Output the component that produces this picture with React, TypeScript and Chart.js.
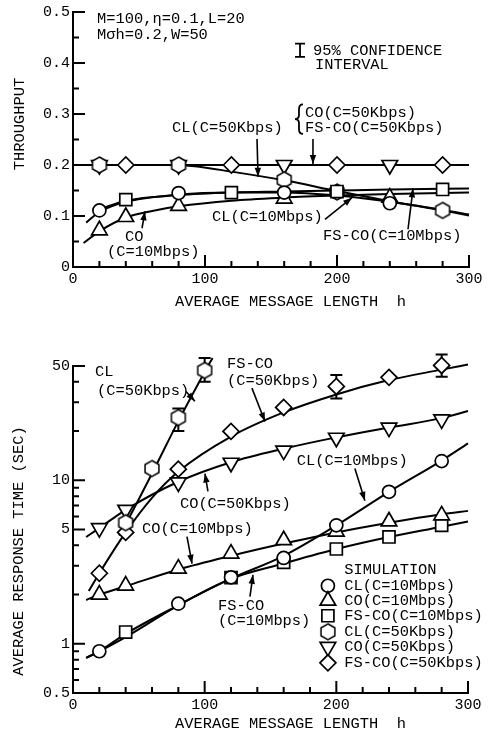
import { useEffect, useRef } from "react";
import { Chart, registerables } from "chart.js";
import { drawPoint } from "chart.js/helpers";

Chart.register(...registerables);

const FONT = "'Liberation Mono', 'DejaVu Sans Mono', monospace";
const TXT = 15.4;

// ---------------- top panel: throughput ----------------
const thrXTicks = [0, 100, 200, 300];
const thrYTicks = [0, 0.1, 0.2, 0.3, 0.4, 0.5];
const thrXMinor = [20, 40, 60, 80, 120, 140, 160, 180, 220, 240, 260, 280];
const thrXMajor = [100, 200, 300];
const thrYMinor = [0.05, 0.15, 0.25, 0.35, 0.45];
const thrYMajor = [0.1, 0.2, 0.3, 0.4, 0.5];

// simulation points
const thrCL10H = [20, 80, 160, 240];
const thrCL10 = [0.111, 0.145, 0.146, 0.125];
const thrCO10H = [20, 40, 80, 160, 240];
const thrCO10 = [0.072, 0.098, 0.12, 0.134, 0.136];
const thrFS10H = [40, 120, 200, 280];
const thrFS10 = [0.132, 0.146, 0.148, 0.152];
const thrCL50H = [20, 80, 160, 200, 280];
const thrCL50 = [0.2, 0.2, 0.171, 0.147, 0.111];
const thrCO50H = [20, 80, 160, 240];
const thrCO50 = [0.2, 0.2, 0.2, 0.2];
const thrFS50H = [40, 120, 200, 280];
const thrFS50 = [0.2, 0.2, 0.2, 0.2];

// analysis curves
const thrLnCL10H = [10, 20, 40, 80, 120, 160, 200, 240, 280, 300];
const thrLnCL10 = [0.087, 0.108, 0.128, 0.142, 0.146, 0.146, 0.14, 0.128, 0.112, 0.103];
const thrLnCO10H = [8, 20, 40, 60, 80, 120, 160, 200, 240, 300];
const thrLnCO10 = [0.047, 0.07, 0.097, 0.11, 0.119, 0.13, 0.136, 0.14, 0.143, 0.146];
const thrLnFS10H = [20, 40, 80, 120, 160, 200, 240, 300];
const thrLnFS10 = [0.113, 0.13, 0.141, 0.146, 0.148, 0.15, 0.152, 0.154];
const thrLnCL50H = [0, 70, 90, 120, 160, 200, 240, 280, 300];
const thrLnCL50 = [0.2, 0.2, 0.198, 0.187, 0.17, 0.149, 0.129, 0.111, 0.101];
const thrLnCO50H = [0, 300];
const thrLnCO50 = [0.2, 0.2];

// ---------------- bottom panel: response time ----------------
const rspXTicks = [0, 100, 200, 300];
const rspYTicks = [0.5, 1, 5, 10, 50];
const rspYMinor = [0.6, 0.7, 0.8, 0.9, 2, 3, 4, 6, 7, 8, 9, 20, 30, 40];
const rspYMajor = [0.5, 1, 5, 10, 50];

const rspCL10H = [20, 80, 120, 160, 200, 240, 280];
const rspCL10 = [0.9, 1.76, 2.55, 3.35, 5.3, 8.5, 13.1];
const rspCO10H = [20, 40, 80, 120, 160, 200, 240, 280];
const rspCO10 = [2.0, 2.27, 2.88, 3.56, 4.3, 4.85, 5.6, 6.1];
const rspFS10H = [40, 120, 160, 200, 240, 280];
const rspFS10 = [1.18, 2.54, 3.15, 3.8, 4.5, 5.3];
const rspCL50H = [40, 60, 80, 100];
const rspCL50 = [5.5, 11.8, 24.2, 47];
const rspCO50H = [20, 40, 80, 120, 160, 200, 240, 280];
const rspCO50 = [5.1, 6.6, 9.7, 12.8, 15.2, 18.2, 21, 23.6];
const rspFS50H = [20, 40, 80, 120, 160, 200, 240, 280];
const rspFS50 = [2.7, 4.8, 11.7, 19.9, 27.9, 37.5, 42.6, 50.4];

// 95% confidence intervals
const rspErrH = [80, 100, 200, 280];
const rspErrLo = [20, 40, 31.6, 43];
const rspErrHi = [27.5, 56, 44, 58.8];

const rspLnCL10H = [10, 20, 40, 80, 120, 160, 200, 240, 280, 300];
const rspLnCL10 = [0.82, 0.9, 1.1, 1.72, 2.5, 3.45, 5.3, 8.5, 13.2, 16.8];
const rspLnCO10H = [10, 20, 40, 80, 120, 160, 200, 240, 280, 300];
const rspLnCO10 = [1.85, 2.0, 2.25, 2.85, 3.45, 4.1, 4.8, 5.5, 6.2, 6.5];
const rspLnFS10H = [10, 20, 40, 80, 120, 160, 200, 240, 280, 300];
const rspLnFS10 = [0.82, 0.9, 1.15, 1.72, 2.5, 3.1, 3.8, 4.5, 5.2, 5.6];
const rspLnCL50H = [35, 40, 60, 80, 100, 106];
const rspLnCL50 = [4.6, 5.4, 11, 23, 46, 56];
const rspLnCO50H = [10, 20, 40, 80, 120, 160, 200, 240, 280, 300];
const rspLnCO50 = [4.5, 5.1, 6.6, 9.8, 12.9, 15.6, 18.3, 21, 24, 26.5];
const rspLnFS50H = [12, 20, 40, 60, 80, 120, 160, 200, 240, 280, 300];
const rspLnFS50 = [2.1, 2.7, 4.8, 7.8, 11.3, 18.5, 26, 33.5, 41, 47.5, 51];

const seriesNames = [
  "CL(C=10Mbps)",
  "CO(C=10Mbps)",
  "FS-CO(C=10Mbps)",
  "CL(C=50Kbps)",
  "CO(C=50Kbps)",
  "FS-CO(C=50Kbps)",
];

// ---------------- annotations ----------------
type Note = { t: string; h: number; v: number };
type Arrow = [number, number, number, number];

const thrNotes: Note[] = [
  { t: "M=100,\u03b7=0.1,L=20", h: 18.2, v: 0.486 },
  { t: "M\u03c3h=0.2,W=50", h: 18.2, v: 0.455 },
  { t: "95% CONFIDENCE", h: 181.8, v: 0.424 },
  { t: "INTERVAL", h: 183.3, v: 0.397 },
  { t: "CO(C=50Kbps)", h: 175.8, v: 0.302 },
  { t: "FS-CO(C=50Kbps)", h: 175.8, v: 0.272 },
  { t: "CL(C=50Kbps)", h: 75, v: 0.272 },
  { t: "CL(C=10Mbps)", h: 105.3, v: 0.099 },
  { t: "FS-CO(C=10Mbps)", h: 189.4, v: 0.06 },
  { t: "CO", h: 39.4, v: 0.058 },
  { t: "(C=10Mbps)", h: 25.8, v: 0.029 },
];
const thrArrows: Arrow[] = [
  [139.4, 0.251, 140.2, 0.177],
  [181.8, 0.251, 181.8, 0.202],
  [190.9, 0.0934, 211.4, 0.136],
  [253.8, 0.074, 257.6, 0.154],
  [52.3, 0.076, 54.5, 0.109],
];

const rspNotes: Note[] = [
  { t: "CL", h: 16.7, v: 46.2 },
  { t: "(C=50Kbps)", h: 18.2, v: 35.4 },
  { t: "FS-CO", h: 116.9, v: 51.8 },
  { t: "(C=50Kbps)", h: 116.9, v: 40.8 },
  { t: "CO(C=50Kbps)", h: 81.2, v: 7.2 },
  { t: "CO(C=10Mbps)", h: 52.4, v: 5.06 },
  { t: "CL(C=10Mbps)", h: 170, v: 13.2 },
  { t: "FS-CO", h: 110.1, v: 1.71 },
  { t: "(C=10Mbps)", h: 110.1, v: 1.38 },
];
const rspArrows: Arrow[] = [
  [85.8, 34.9, 92.6, 30.4],
  [135.9, 36.6, 145.8, 22.9],
  [102.5, 8.55, 100.2, 11.0],
  [86.6, 4.52, 90.4, 3.09],
  [214.1, 11.8, 221.7, 7.5],
  [134.4, 1.94, 136.7, 2.64],
];

const X_TITLE = "AVERAGE MESSAGE LENGTH  h";

// ---------------- helpers ----------------
const pts = (hs: number[], vs: number[]) => hs.map((h, i) => ({ x: h, y: vs[i] }));

function makeHexagonCanvas(): HTMLCanvasElement {
  const c = document.createElement("canvas");
  c.width = 20;
  c.height = 20;
  const ctx = c.getContext("2d")!;
  const r = 8;
  const m = 10;
  ctx.beginPath();
  for (let i = 0; i < 6; i++) {
    const a = -Math.PI / 2 + (i * Math.PI) / 3;
    const x = m + r * Math.cos(a);
    const y = m + r * Math.sin(a);
    if (i === 0) ctx.moveTo(x, y);
    else ctx.lineTo(x, y);
  }
  ctx.closePath();
  ctx.fillStyle = "#ffffff";
  ctx.fill();
  ctx.lineWidth = 1.5;
  ctx.strokeStyle = "#000000";
  ctx.stroke();
  return c;
}

type Mk = { pointStyle: any; radius: number; rotation: number };
function markerStyles(hex: any): Mk[] {
  return [
    { pointStyle: "circle", radius: 6.5, rotation: 0 },
    { pointStyle: "triangle", radius: 9, rotation: 0 },
    { pointStyle: "rect", radius: 8.5, rotation: 0 },
    { pointStyle: hex, radius: 8, rotation: 0 },
    { pointStyle: "triangle", radius: 9, rotation: 180 },
    { pointStyle: "rectRot", radius: 8, rotation: 0 },
  ];
}

function markerDs(label: string, data: any[], m: Mk) {
  return {
    label,
    data,
    showLine: false,
    pointStyle: m.pointStyle,
    pointRadius: m.radius,
    pointRotation: m.rotation,
    pointBorderWidth: 1.7,
    pointBorderColor: "#000",
    pointBackgroundColor: "#fff",
    clip: false as any,
    order: 1,
    isMarker: true,
  };
}

function lineDs(data: any[]) {
  return {
    label: "",
    data,
    showLine: true,
    borderColor: "#000",
    borderWidth: 2,
    pointRadius: 0,
    cubicInterpolationMode: "monotone" as const,
    fill: false,
    clip: false as any,
    order: 2,
    isMarker: false,
  };
}

function drawArrow(ctx: CanvasRenderingContext2D, x1: number, y1: number, x2: number, y2: number) {
  ctx.beginPath();
  ctx.moveTo(x1, y1);
  ctx.lineTo(x2, y2);
  ctx.stroke();
  const a = Math.atan2(y2 - y1, x2 - x1);
  const L = 9;
  const W = 3.2;
  ctx.beginPath();
  ctx.moveTo(x2, y2);
  ctx.lineTo(x2 - L * Math.cos(a) + W * Math.sin(a), y2 - L * Math.sin(a) - W * Math.cos(a));
  ctx.lineTo(x2 - L * Math.cos(a) - W * Math.sin(a), y2 - L * Math.sin(a) + W * Math.cos(a));
  ctx.closePath();
  ctx.fill();
}

type Overlay = {
  xMinor: number[];
  xMajor: number[];
  yMinor: number[];
  yMajor: number[];
  notes: Note[];
  arrows: Arrow[];
  yTitle: string;
  yTitlePos: [number, number];
  xTitlePos: [number, number];
  err?: { h: number[]; lo: number[]; hi: number[] };
  confidence?: { h: number; lo: number; hi: number };
  brace?: { h: number; top: number; bottom: number };
  legend?: { title: string; h: number; v: number; markerH: number; rows: number[] };
};

function makeOverlay(o: Overlay) {
  return {
    id: "overlay",
    beforeDatasetsDraw(chart: any) {
      if (!o.err) return;
      const ctx = chart.ctx as CanvasRenderingContext2D;
      const xs = chart.scales.x;
      const ys = chart.scales.y;
      ctx.save();
      ctx.strokeStyle = "#000";
      ctx.lineWidth = 2;
      o.err.h.forEach((h, i) => {
        const x = xs.getPixelForValue(h);
        const y1 = ys.getPixelForValue(o.err!.lo[i]);
        const y2 = ys.getPixelForValue(o.err!.hi[i]);
        ctx.beginPath();
        ctx.moveTo(x, y1);
        ctx.lineTo(x, y2);
        ctx.moveTo(x - 6, y1);
        ctx.lineTo(x + 6, y1);
        ctx.moveTo(x - 6, y2);
        ctx.lineTo(x + 6, y2);
        ctx.stroke();
      });
      ctx.restore();
    },
    afterDraw(chart: any) {
      const ctx = chart.ctx as CanvasRenderingContext2D;
      const xs = chart.scales.x;
      const ys = chart.scales.y;
      const ca = chart.chartArea;
      const px = (h: number) => xs.getPixelForValue(h);
      const py = (v: number) => ys.getPixelForValue(v);
      ctx.save();
      ctx.strokeStyle = "#000";
      ctx.fillStyle = "#000";
      // inward ticks
      ctx.lineWidth = 2;
      ctx.beginPath();
      o.xMinor.forEach((h) => {
        ctx.moveTo(px(h), ca.bottom);
        ctx.lineTo(px(h), ca.bottom - 6);
      });
      o.xMajor.forEach((h) => {
        ctx.moveTo(px(h), ca.bottom);
        ctx.lineTo(px(h), ca.bottom - 12);
      });
      o.yMinor.forEach((v) => {
        ctx.moveTo(ca.left, py(v));
        ctx.lineTo(ca.left + 6, py(v));
      });
      o.yMajor.forEach((v) => {
        ctx.moveTo(ca.left, py(v));
        ctx.lineTo(ca.left + 12, py(v));
      });
      ctx.stroke();

      // titles
      ctx.font = `${TXT}px ${FONT}`;
      ctx.textBaseline = "middle";
      ctx.textAlign = "center";
      ctx.fillText(X_TITLE, o.xTitlePos[0], o.xTitlePos[1]);
      ctx.save();
      ctx.translate(o.yTitlePos[0], o.yTitlePos[1]);
      ctx.rotate(-Math.PI / 2);
      ctx.fillText(o.yTitle, 0, 0);
      ctx.restore();

      // notes
      ctx.textAlign = "left";
      o.notes.forEach((n) => ctx.fillText(n.t, px(n.h), py(n.v)));

      // arrows
      ctx.lineWidth = 1.6;
      o.arrows.forEach((a) => drawArrow(ctx, px(a[0]), py(a[1]), px(a[2]), py(a[3])));

      // confidence interval symbol
      if (o.confidence) {
        const c = o.confidence;
        const x = px(c.h);
        ctx.lineWidth = 1.8;
        ctx.beginPath();
        ctx.moveTo(x, py(c.lo));
        ctx.lineTo(x, py(c.hi));
        ctx.moveTo(x - 5, py(c.lo));
        ctx.lineTo(x + 5, py(c.lo));
        ctx.moveTo(x - 5, py(c.hi));
        ctx.lineTo(x + 5, py(c.hi));
        ctx.stroke();
      }
      // brace
      if (o.brace) {
        const x = px(o.brace.h);
        const y1 = py(o.brace.top);
        const y2 = py(o.brace.bottom);
        const m = (y1 + y2) / 2;
        ctx.lineWidth = 1.8;
        ctx.beginPath();
        ctx.moveTo(x + 4, y1);
        ctx.quadraticCurveTo(x, y1, x, y1 + 5);
        ctx.lineTo(x, m - 4);
        ctx.quadraticCurveTo(x, m, x - 4, m);
        ctx.quadraticCurveTo(x, m, x, m + 4);
        ctx.lineTo(x, y2 - 5);
        ctx.quadraticCurveTo(x, y2, x + 4, y2);
        ctx.stroke();
      }
      // legend built from marker datasets
      if (o.legend) {
        const lg = o.legend;
        ctx.fillText(lg.title, px(lg.h), py(lg.v));
        const mds = chart.data.datasets.filter((d: any) => d.isMarker);
        mds.forEach((d: any, i: number) => {
          const y = py(lg.rows[i]);
          ctx.fillStyle = "#fff";
          ctx.strokeStyle = "#000";
          ctx.lineWidth = 1.7;
          drawPoint(
            ctx,
            {
              pointStyle: d.pointStyle,
              radius: d.pointRadius,
              rotation: d.pointRotation,
              borderWidth: 1.7,
            } as any,
            px(lg.markerH),
            y
          );
          ctx.fillStyle = "#000";
          ctx.fillText(d.label, px(lg.h), y);
        });
      }
      ctx.restore();
    },
  };
}

function scaleBase(extra: any) {
  return {
    grid: { display: false, drawOnChartArea: false, drawTicks: false },
    border: { display: true, color: "#000", width: 2 },
    ticks: {
      color: "#000",
      font: { family: FONT, size: 15 },
      autoSkip: false,
      maxRotation: 0,
      minRotation: 0,
      callback: (v: any) => String(v),
    },
    ...extra,
  };
}

function buildTop(hex: any): any {
  const mk = markerStyles(hex);
  const datasets = [
    markerDs(seriesNames[0], pts(thrCL10H, thrCL10), mk[0]),
    markerDs(seriesNames[1], pts(thrCO10H, thrCO10), mk[1]),
    markerDs(seriesNames[2], pts(thrFS10H, thrFS10), mk[2]),
    markerDs(seriesNames[3], pts(thrCL50H, thrCL50), mk[3]),
    markerDs(seriesNames[4], pts(thrCO50H, thrCO50), mk[4]),
    markerDs(seriesNames[5], pts(thrFS50H, thrFS50), mk[5]),
    lineDs(pts(thrLnCL10H, thrLnCL10)),
    lineDs(pts(thrLnCO10H, thrLnCO10)),
    lineDs(pts(thrLnFS10H, thrLnFS10)),
    lineDs(pts(thrLnCL50H, thrLnCL50)),
    lineDs(pts(thrLnCO50H, thrLnCO50)),
  ];
  return {
    type: "scatter",
    data: { datasets },
    options: {
      animation: false,
      responsive: false,
      events: [],
      layout: { padding: { top: 9.5, right: 24, left: 0, bottom: 0 } },
      plugins: { legend: { display: false }, tooltip: { enabled: false } },
      scales: {
        x: scaleBase({
          type: "linear",
          position: "bottom",
          min: 0,
          max: 300,
          afterBuildTicks: (s: any) => {
            s.ticks = thrXTicks.map((v) => ({ value: v }));
          },
          afterFit: (s: any) => {
            s.height = 53;
          },
        }),
        y: scaleBase({
          type: "linear",
          position: "left",
          min: 0,
          max: 0.5,
          afterBuildTicks: (s: any) => {
            s.ticks = thrYTicks.map((v) => ({ value: v }));
          },
          afterFit: (s: any) => {
            s.width = 73;
          },
        }),
      },
    },
    plugins: [
      makeOverlay({
        xMinor: thrXMinor,
        xMajor: thrXMajor,
        yMinor: thrYMinor,
        yMajor: thrYMajor,
        notes: thrNotes,
        arrows: thrArrows,
        yTitle: "THROUGHPUT",
        yTitlePos: [20, 124],
        xTitlePos: [290.5, 302],
        confidence: { h: 172, lo: 0.412, hi: 0.438 },
        brace: { h: 171.2, top: 0.319, bottom: 0.261 },
      }),
    ],
  };
}

function buildBottom(hex: any): any {
  const mk = markerStyles(hex);
  const datasets = [
    markerDs(seriesNames[0], pts(rspCL10H, rspCL10), mk[0]),
    markerDs(seriesNames[1], pts(rspCO10H, rspCO10), mk[1]),
    markerDs(seriesNames[2], pts(rspFS10H, rspFS10), mk[2]),
    markerDs(seriesNames[3], pts(rspCL50H, rspCL50), mk[3]),
    markerDs(seriesNames[4], pts(rspCO50H, rspCO50), mk[4]),
    markerDs(seriesNames[5], pts(rspFS50H, rspFS50), mk[5]),
    lineDs(pts(rspLnCL10H, rspLnCL10)),
    lineDs(pts(rspLnCO10H, rspLnCO10)),
    lineDs(pts(rspLnFS10H, rspLnFS10)),
    lineDs(pts(rspLnCL50H, rspLnCL50)),
    lineDs(pts(rspLnCO50H, rspLnCO50)),
    lineDs(pts(rspLnFS50H, rspLnFS50)),
  ];
  return {
    type: "scatter",
    data: { datasets },
    options: {
      animation: false,
      responsive: false,
      events: [],
      layout: { padding: { top: 46, right: 25, left: 0, bottom: 0 } },
      plugins: { legend: { display: false }, tooltip: { enabled: false } },
      scales: {
        x: scaleBase({
          type: "linear",
          position: "bottom",
          min: 0,
          max: 300,
          afterBuildTicks: (s: any) => {
            s.ticks = rspXTicks.map((v) => ({ value: v }));
          },
          afterFit: (s: any) => {
            s.height = 43;
          },
        }),
        y: scaleBase({
          type: "logarithmic",
          position: "left",
          min: 0.5,
          max: 50,
          afterBuildTicks: (s: any) => {
            s.ticks = rspYTicks.map((v) => ({ value: v }));
          },
          afterFit: (s: any) => {
            s.width = 73;
          },
        }),
      },
    },
    plugins: [
      makeOverlay({
        xMinor: thrXMinor,
        xMajor: thrXMajor,
        yMinor: rspYMinor,
        yMajor: rspYMajor,
        notes: rspNotes,
        arrows: rspArrows,
        yTitle: "AVERAGE RESPONSE TIME (SEC)",
        yTitlePos: [18.5, 231],
        xTitlePos: [290.5, 404],
        err: { h: rspErrH, lo: rspErrLo, hi: rspErrHi },
        legend: {
          title: "SIMULATION",
          h: 206,
          v: 2.84,
          markerH: 193.6,
          rows: [2.265, 1.834, 1.484, 1.184, 0.958, 0.765],
        },
      }),
    ],
  };
}

export default function App() {
  const topRef = useRef<HTMLCanvasElement>(null);
  const botRef = useRef<HTMLCanvasElement>(null);
  useEffect(() => {
    const hex = makeHexagonCanvas();
    const c1 = new Chart(topRef.current!, buildTop(hex));
    const c2 = new Chart(botRef.current!, buildBottom(hex));
    return () => {
      c1.destroy();
      c2.destroy();
    };
  }, []);
  return (
    <div style={{ position: "absolute", left: 0, top: 0, width: 493, height: 736, background: "#fff" }}>
      <canvas
        ref={topRef}
        width={493}
        height={320}
        style={{ position: "absolute", left: 0, top: 0, width: 493, height: 320 }}
      />
      <canvas
        ref={botRef}
        width={493}
        height={416}
        style={{ position: "absolute", left: 0, top: 320, width: 493, height: 416 }}
      />
    </div>
  );
}
